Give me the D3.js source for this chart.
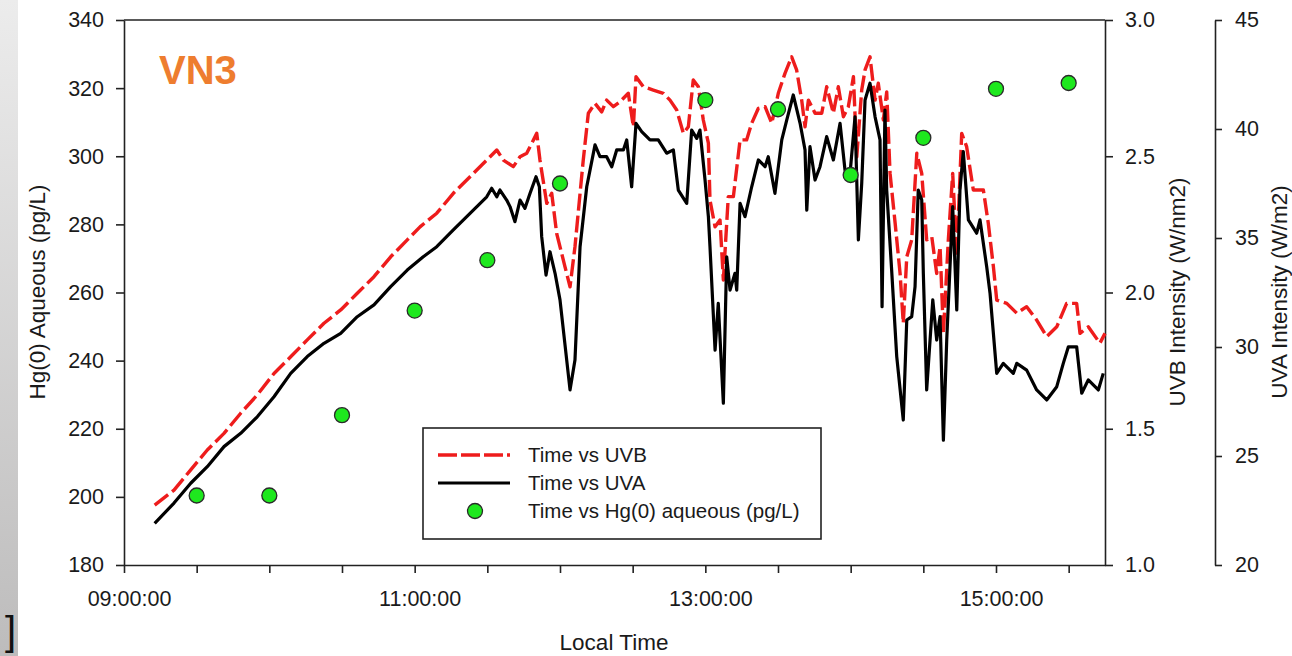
<!DOCTYPE html>
<html>
<head>
<meta charset="utf-8">
<script src="https://cdn.jsdelivr.net/npm/d3@7"></script>
<style>
  html, body { margin: 0; padding: 0; background: #fff; }
  svg { display: block; }
  text { font-family: "Liberation Sans", Arial, sans-serif; fill: #1a1a1a; }
</style>
</head>
<body>
<svg id="chart" width="1292" height="656"></svg>
<script>
// ---------- DATA (time in decimal hours, local time) ----------
const uvaTimes = [9.211,9.344,9.459,9.573,9.688,9.803,9.917,10.032,10.147,10.261,10.376,10.491,10.605,10.720,10.835,10.949,11.057,11.152,11.266,11.381,11.496,11.530,11.565,11.587,11.633,11.656,11.690,11.725,11.759,11.794,11.835,11.858,11.874,11.904,11.931,11.966,12.000,12.069,12.103,12.138,12.184,12.241,12.275,12.321,12.356,12.390,12.436,12.459,12.493,12.523,12.562,12.619,12.676,12.734,12.780,12.814,12.872,12.906,12.941,12.963,12.998,13.021,13.032,13.067,13.089,13.124,13.147,13.170,13.204,13.216,13.239,13.273,13.319,13.365,13.411,13.433,13.479,13.526,13.560,13.605,13.652,13.686,13.698,13.720,13.755,13.789,13.835,13.881,13.927,13.961,13.996,14.030,14.053,14.076,14.099,14.133,14.168,14.202,14.216,14.236,14.248,14.282,14.317,14.362,14.386,14.420,14.443,14.465,14.489,14.500,14.523,14.565,14.592,14.615,14.638,14.661,14.702,14.730,14.752,14.775,14.810,14.867,14.890,14.936,14.959,15.005,15.050,15.119,15.143,15.211,15.280,15.349,15.418,15.463,15.498,15.555,15.590,15.635,15.704,15.738];
const uvaValues = [21.91,22.84,23.75,24.51,25.43,26.04,26.80,27.72,28.79,29.56,30.17,30.63,31.39,31.93,32.77,33.53,34.13,34.60,35.37,36.13,36.89,37.28,36.89,37.20,36.74,36.44,35.75,36.74,36.36,37.05,37.81,37.35,35.06,33.30,34.37,33.38,32.16,28.03,29.40,34.60,37.35,39.27,38.73,38.73,38.27,39.04,39.04,39.50,37.35,40.26,39.88,39.50,39.50,38.89,39.04,37.20,36.59,39.95,39.57,39.95,37.66,35.98,34.60,29.86,32.00,27.42,34.14,32.61,33.38,32.61,36.59,35.98,37.35,38.58,38.27,38.73,37.05,39.50,40.41,41.56,40.26,39.04,36.28,39.19,37.66,38.27,39.65,38.58,40.26,38.12,37.97,40.56,34.91,37.51,41.33,42.10,40.56,39.50,31.85,40.87,37.20,33.53,29.56,26.65,31.24,31.39,32.77,37.20,36.74,33.38,28.03,32.16,30.32,31.39,25.73,30.32,36.44,31.70,37.20,38.96,35.83,35.22,35.83,33.68,32.46,28.79,29.25,28.79,29.25,28.94,28.03,27.57,28.18,29.25,30.01,30.01,27.88,28.49,28.03,28.79];

const uvbTimes = [9.211,9.344,9.459,9.573,9.688,9.803,9.917,10.032,10.147,10.261,10.376,10.491,10.605,10.720,10.835,10.949,11.037,11.152,11.266,11.381,11.496,11.565,11.610,11.679,11.725,11.771,11.840,11.862,11.909,11.943,11.977,12.034,12.069,12.103,12.160,12.195,12.241,12.287,12.321,12.367,12.413,12.470,12.505,12.523,12.573,12.642,12.711,12.757,12.803,12.849,12.883,12.917,12.952,12.986,13.021,13.032,13.067,13.101,13.124,13.158,13.193,13.239,13.284,13.319,13.365,13.411,13.457,13.502,13.548,13.594,13.628,13.663,13.686,13.709,13.755,13.801,13.835,13.881,13.915,13.950,13.984,14.019,14.042,14.076,14.099,14.133,14.168,14.190,14.225,14.248,14.271,14.306,14.340,14.362,14.386,14.420,14.455,14.489,14.523,14.558,14.592,14.615,14.638,14.672,14.702,14.730,14.764,14.798,14.844,14.913,14.947,14.982,15.005,15.074,15.143,15.211,15.280,15.349,15.418,15.486,15.555,15.578,15.635,15.715,15.750];
const uvbValues = [1.220,1.275,1.349,1.422,1.483,1.557,1.624,1.703,1.764,1.826,1.887,1.936,1.997,2.058,2.131,2.193,2.241,2.291,2.364,2.425,2.486,2.523,2.486,2.462,2.498,2.511,2.584,2.486,2.327,2.364,2.217,2.095,2.021,2.168,2.486,2.658,2.694,2.663,2.706,2.682,2.700,2.731,2.608,2.792,2.755,2.743,2.731,2.706,2.670,2.584,2.608,2.780,2.755,2.633,2.548,2.339,2.241,2.266,2.046,2.352,2.352,2.560,2.560,2.621,2.676,2.682,2.621,2.731,2.804,2.865,2.817,2.706,2.608,2.706,2.658,2.658,2.755,2.658,2.755,2.645,2.682,2.792,2.498,2.743,2.817,2.865,2.706,2.768,2.633,2.736,2.437,2.254,2.070,1.887,2.131,2.193,2.511,2.437,2.193,2.205,2.070,2.168,1.850,2.193,2.437,2.131,2.584,2.535,2.376,2.376,2.254,2.095,1.972,1.960,1.924,1.948,1.899,1.838,1.874,1.960,1.960,1.850,1.874,1.814,1.850];

const hgTimes = [9.5,10,10.5,11,11.5,12,13,13.5,14,14.5,15,15.5];
const hgValues = [200.4,200.4,224,254.7,269.5,292,316.5,313.8,294.5,305.4,319.8,321.5];

const xTickValues = [9,9.5,10,10.5,11,11.5,12,12.5,13,13.5,14,14.5,15,15.5];
const hgTicks = [180,200,220,240,260,280,300,320,340];
const uvbTicks = [1.0,1.5,2.0,2.5,3.0];
const uvaTicks = [20,25,30,35,40,45];
const legendLabels = ["Time vs UVB","Time vs UVA","Time vs Hg(0) aqueous (pg/L)"];
const titleText = "VN3";

// ---------- LAYOUT ----------
const L = 124, R = 1105, T = 20, B = 565;
const svg = d3.select("#chart");

// left grey strip
const defs = svg.append("defs");
const grad = defs.append("linearGradient").attr("id","strip").attr("x1",0).attr("y1",0).attr("x2",0).attr("y2",1);
grad.append("stop").attr("offset","0%").attr("stop-color","#ececec");
grad.append("stop").attr("offset","100%").attr("stop-color","#bdbcbc");
svg.append("rect").attr("x",0).attr("y",0).attr("width",18).attr("height",656).attr("fill","url(#strip)");
svg.append("text").attr("x",5).attr("y",645).attr("font-size",40).style("fill","#111").text("]");

const x = d3.scaleLinear().domain([9, 15.75]).range([L, R]);
const yHg = d3.scaleLinear().domain([180, 340]).range([B, T]);
const yUVB = d3.scaleLinear().domain([1, 3]).range([B, T]);
const yUVA = d3.scaleLinear().domain([20, 45]).range([B, T]);

const tickFont = 21.5;
function styleAxis(g) {
  g.selectAll("path.domain").attr("stroke", "#222").attr("stroke-width", 1.6);
  g.selectAll(".tick line").attr("stroke", "#222").attr("stroke-width", 1.6);
  g.selectAll(".tick text").attr("font-size", tickFont)
    .attr("font-family", "'Liberation Sans', Arial, sans-serif").style("fill", "#1a1a1a");
}

// frame top line
svg.append("line").attr("x1", L).attr("x2", R).attr("y1", T).attr("y2", T)
  .attr("stroke", "#222").attr("stroke-width", 1.6);

// bottom axis
const fmtTime = d => (Number.isInteger(d) && d % 2 === 1) ? String(d).padStart(2, "0") + ":00:00" : "";
svg.append("g").attr("transform", `translate(0,${B})`)
  .call(d3.axisBottom(x).tickValues(xTickValues).tickFormat(fmtTime).tickSize(8).tickSizeOuter(0).tickPadding(18))
  .call(styleAxis)
  .call(g => g.selectAll(".tick text").attr("dx", 5));

// left axis
svg.append("g").attr("transform", `translate(${L},0)`)
  .call(d3.axisLeft(yHg).tickValues(hgTicks).tickSize(8).tickSizeOuter(0).tickPadding(12))
  .call(styleAxis);

// right UVB axis
svg.append("g").attr("transform", `translate(${R},0)`)
  .call(d3.axisRight(yUVB).tickValues(uvbTicks).tickFormat(d3.format(".1f")).tickSize(8).tickSizeOuter(0).tickPadding(12))
  .call(styleAxis);

// second right UVA axis
svg.append("g").attr("transform", `translate(1215,0)`)
  .call(d3.axisRight(yUVA).tickValues(uvaTicks).tickSize(7).tickSizeOuter(0).tickPadding(13))
  .call(styleAxis);

// axis titles
const titleFont = 22.5;
svg.append("text").attr("x", 614).attr("y", 650).attr("text-anchor", "middle")
  .attr("font-size", titleFont).text("Local Time");
svg.append("text").attr("transform", "translate(45,292) rotate(-90)").attr("text-anchor", "middle")
  .attr("font-size", titleFont).text("Hg(0) Aqueous (pg/L)");
svg.append("text").attr("transform", "translate(1185,292) rotate(-90)").attr("text-anchor", "middle")
  .attr("font-size", titleFont).text("UVB Intensity (W/nm2)");
svg.append("text").attr("transform", "translate(1287,292) rotate(-90)").attr("text-anchor", "middle")
  .attr("font-size", titleFont).text("UVA Intensity (W/m2)");

// series
const uvbData = uvbTimes.map((t, i) => [t, uvbValues[i]]);
const uvaData = uvaTimes.map((t, i) => [t, uvaValues[i]]);
const hgData = hgTimes.map((t, i) => [t, hgValues[i]]);

svg.append("path").datum(uvbData)
  .attr("fill", "none").attr("stroke", "#ee1c1c").attr("stroke-width", 3.4)
  .attr("stroke-dasharray", "17,5").attr("stroke-linejoin", "round")
  .attr("d", d3.line().x(d => x(d[0])).y(d => yUVB(d[1])));

svg.append("path").datum(uvaData)
  .attr("fill", "none").attr("stroke", "#000").attr("stroke-width", 3.2)
  .attr("stroke-linejoin", "round")
  .attr("d", d3.line().x(d => x(d[0])).y(d => yUVA(d[1])));

svg.append("g").selectAll("circle").data(hgData).join("circle")
  .attr("cx", d => x(d[0])).attr("cy", d => yHg(d[1])).attr("r", 7.5)
  .attr("fill", "#1ee81e").attr("stroke", "#2a2a2a").attr("stroke-width", 1.3);

// VN3 label
svg.append("text").attr("x", 159).attr("y", 84).attr("font-size", 40).attr("font-weight", "bold")
  .attr("font-family", "'Open Sans', sans-serif").style("fill", "#ee7d2f").text(titleText);

// legend
const lg = svg.append("g");
lg.append("rect").attr("x", 423).attr("y", 428).attr("width", 398).attr("height", 111)
  .attr("fill", "#fff").attr("stroke", "#222").attr("stroke-width", 1.6);
const rowsY = [455, 483, 511];
lg.append("line").attr("x1", 438).attr("x2", 510).attr("y1", rowsY[0]).attr("y2", rowsY[0])
  .attr("stroke", "#ee1c1c").attr("stroke-width", 3.4).attr("stroke-dasharray", "19,4");
lg.append("line").attr("x1", 438).attr("x2", 510).attr("y1", rowsY[1]).attr("y2", rowsY[1])
  .attr("stroke", "#000").attr("stroke-width", 3.2);
lg.append("circle").attr("cx", 475).attr("cy", rowsY[2]).attr("r", 7.5)
  .attr("fill", "#1ee81e").attr("stroke", "#2a2a2a").attr("stroke-width", 1.3);
lg.selectAll("text.lab").data(legendLabels).join("text").attr("class", "lab")
  .attr("x", 528).attr("y", (d, i) => rowsY[i]).attr("dy", "0.36em")
  .attr("font-size", 20.5).text(d => d);
</script>
</body>
</html>
